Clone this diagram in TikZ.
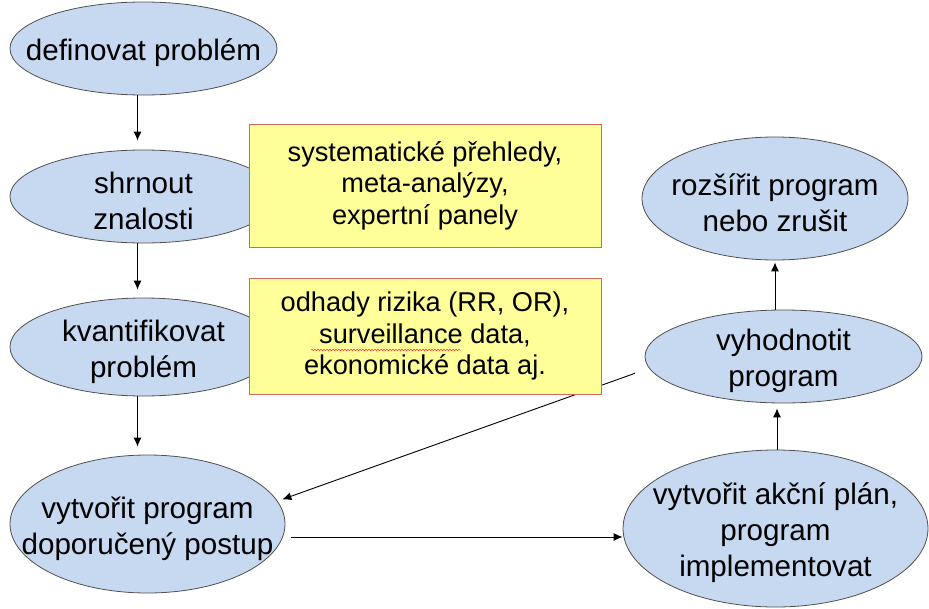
\documentclass[tikz,border=0pt]{standalone}
\usepackage{fontspec}
\setmainfont{Liberation Sans}
\usepackage{tikz}
\usetikzlibrary{shapes.geometric,arrows.meta,decorations.pathmorphing}
\definecolor{elfill}{HTML}{C6D9F1}
\definecolor{elline}{HTML}{505050}
\definecolor{bxfill}{HTML}{FFFF99}
\definecolor{bxline}{HTML}{D0685E}
\newcommand\elfont{\fontsize{29.6}{36}\selectfont}
\newcommand\bxfont{\fontsize{27.2}{31.5}\selectfont}
% taller first line, so the text sits a little below the middle
\newcommand\elup{\rule{0pt}{31pt}}

\begin{document}
\begin{tikzpicture}[
        x=1pt, y=1pt,
        el/.style={ellipse, draw=elline, fill=elfill, line width=0.8pt, align=center,
            inner xsep=-60pt, inner ysep=-20pt, font=\elfont},
        bx/.style={rectangle, draw=bxline, fill=bxfill, line width=0.8pt, align=center,
            minimum width=352pt, font=\bxfont},
        arr/.style={-{Latex[length=9pt,width=8pt]}, line width=0.9pt}
    ]
    \useasboundingbox (0,0) rectangle (929,-608);

    % left column
    \node[el, minimum width=267pt, minimum height=93pt] (definovat) at (143.5,-48.5) {\elup definovat problém};
    \node[el, minimum width=267pt, minimum height=93pt] (shrnout) at (143.5,-196.5) {\elup shrnout\\znalosti};
    \node[el, minimum width=267pt, minimum height=98pt] (kvant) at (143.5,-347) {\elup kvantifikovat\\problém};
    \node[el, minimum width=275pt, minimum height=138pt] (vytvorit) at (147.5,-524) {\elup vytvořit program\\doporučený postup};

    % right column
    \node[el, minimum width=305pt, minimum height=157pt] (akce) at (775.5,-528.5) {\elup vytvořit akční plán,\\program\\implementovat};
    \node[el, minimum width=277pt, minimum height=93pt] (vyhodnotit) at (783.5,-356.5) {\elup vyhodnotit\\program};
    \node[el, minimum width=266pt, minimum height=123pt] (rozsirit) at (775,-198.5) {\elup rozšířit program\\nebo zrušit};

    \draw [arr,shorten >=9pt] ([xshift=-6pt]definovat.south) -- ([xshift=-6pt]shrnout.north);
    \draw [arr,shorten >=8pt] ([xshift=-6pt]shrnout.south) -- ([xshift=-6pt]kvant.north);
    \draw [arr,shorten >=8pt] ([xshift=-6pt]kvant.south) -- ([xshift=-6pt]kvant.south |- vytvorit.north);
    \draw [arr] ([xshift=6pt,yshift=-13pt]vytvorit.east) -- ([yshift=-8.5pt]akce.west);
    \draw [arr,shorten >=5pt] ([xshift=1.5pt]akce.north) -- ([xshift=1.5pt]akce.north |- vyhodnotit.south);
    \draw [arr,shorten >=2pt] (rozsirit.south |- vyhodnotit.north) -- (rozsirit.south);
    \draw [arr,shorten <=15pt,shorten >=5pt] (vyhodnotit.185) -- (vytvorit.10);

    % yellow notes, on top
    \node[bx, minimum height=123pt] (prehledy) at (425,-185.5) {systematické přehledy,\\meta-analýzy,\\expertní panely};
    \node[bx, minimum height=116pt] (odhady) at (425,-336) {odhady rizika (RR, OR),\\surveillance data,\\ekonomické data aj.};
    \draw [red!80, line width=0.5pt, decorate, decoration={snake,amplitude=0.8pt,segment length=3pt}]
        ([shift={(-114pt,-14pt)}]odhady.center) -- ([shift={(36pt,-14pt)}]odhady.center);
\end{tikzpicture}
\end{document}
